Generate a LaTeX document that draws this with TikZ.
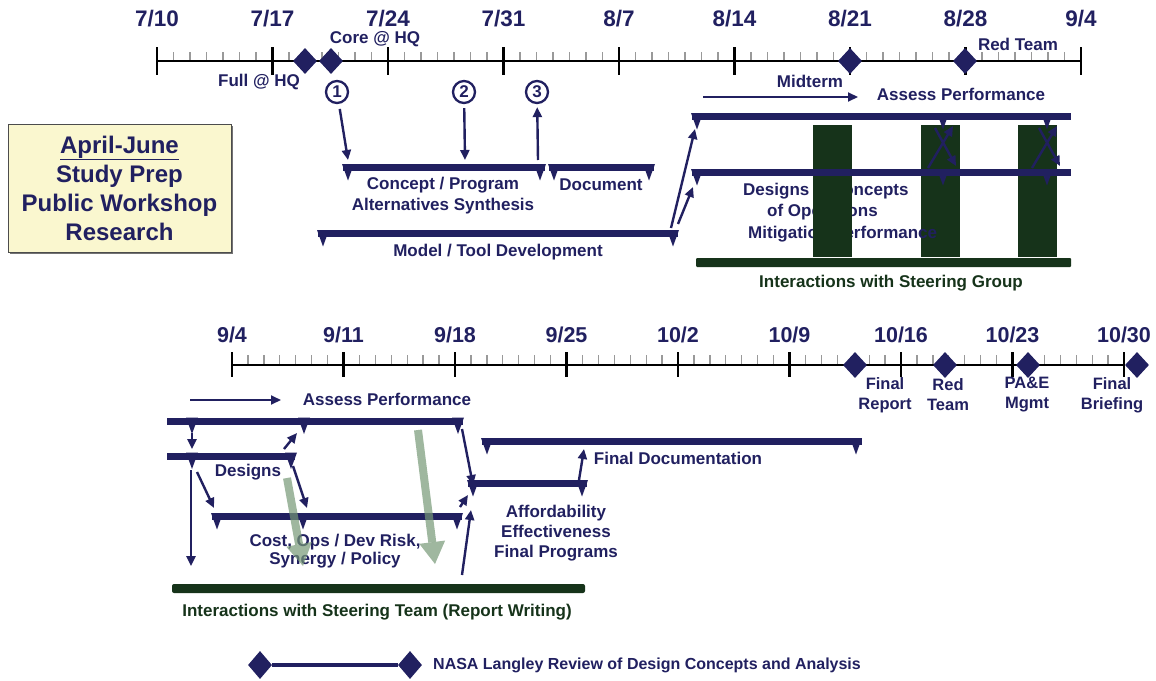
\documentclass[tikz,border=0pt]{standalone}
\usepackage{fontspec}
\setmainfont{Liberation Sans}
\usetikzlibrary{arrows.meta,shapes.geometric}

\definecolor{navy}{RGB}{33,32,96}
\definecolor{steer}{RGB}{22,51,26}
\definecolor{notepad}{RGB}{250,247,207}
\definecolor{ghost}{RGB}{118,152,118}

\newcommand\datefont{\bfseries\fontsize{22.5}{26}\selectfont}
\newcommand\lblfont{\bfseries\fontsize{17}{21}\selectfont}
\newcommand\smallfont{\bfseries\fontsize{16.5}{20}\selectfont}

% bar of a task, from x #1 to x #2 at height #3
\newcommand\taskbar[3]{\fill[navy] (#1,#3-3.5) rectangle (#2,#3+3.5);}

\tikzset{
  date/.style={font=\datefont, text=navy},
  lbl/.style={font=\lblfont, text=navy, align=center, inner sep=1pt},
  steerlbl/.style={font=\lblfont, text=steer, inner sep=1pt},
  axis/.style={black, line width=2.6pt},
  major/.style={black, line width=2.6pt},
  minor/.style={black!40, line width=1.3pt},
  milestone/.style={diamond, fill=navy, inner sep=0pt, minimum width=24pt, minimum height=26pt},
  numbered/.style={circle, draw=navy, line width=2.3pt, text=navy, font=\bfseries\fontsize{17}{17}\selectfont, minimum size=22pt, inner sep=0pt},
  link/.style={navy, line width=2.4pt, -{Triangle[length=10pt,width=9pt]}},
  spanarrow/.style={navy, line width=2pt, -{Triangle[length=10pt,width=9pt]}},
  steercol/.style={fill=steer},
  ghostarrow/.style={draw=ghost, line width=8pt, opacity=.7, -{Triangle[length=22pt,width=26pt,line width=0pt]}},
  droptip/.pic={\fill[navy] (-6,-3.5) -- (6,-3.5) -- (0,13) -- cycle;}
}

\begin{document}
\begin{tikzpicture}[x=1pt, y=-1pt]
\useasboundingbox (0,0) rectangle (1156,680);

% ---- July / August time line
\foreach \k in {0,...,56}
  \draw[minor] (157+16.5*\k,52) -- (157+16.5*\k,61);
\draw[axis] (157,61) -- (1081,61);
\foreach \m/\d [count=\i from 0] in {7/10,7/17,7/24,7/31,8/7,8/14,8/21,8/28,9/4} {
  \draw[major] (157+115.5*\i,47) -- (157+115.5*\i,75);
  \node[date] (top\i) at (157+115.5*\i,19) {\m/\d};
}
\node[milestone] (full) at (305,61) {};
\node[milestone] (core) at (331,61) {};
\node[milestone] (mid) at (850,61) {};
\node[milestone] (red) at (965,61) {};
\node[lbl] (fullhq) at (259,82) {Full @ HQ};
\node[lbl] (corehq) at (375,39) {Core @ HQ};
\node[lbl] (redteam) at (1018,44) {Red Team};

% numbered steps of the synthesis
\node[numbered] (c1) at (337,92) {1};
\node[numbered] (c2) at (464,92) {2};
\node[numbered] (c3) at (537,92) {3};

\taskbar{343}{545}{167.5}
\pic at (348,167.5) {droptip}; \pic at (540,167.5) {droptip};
\taskbar{549}{654}{167.5}
\pic at (554,167.5) {droptip}; \pic at (649,167.5) {droptip};
\node[lbl] (synth) at (443,195.5) {Concept / Program\\Alternatives Synthesis};
\node[lbl] (doc) at (601,185) {Document};
\taskbar{318}{678}{233.5}
\pic at (323,233.5) {droptip}; \pic at (673,233.5) {droptip};
\node[lbl] (model) at (498,252) {Model / Tool Development};

\coordinate (a1) at (348,160);
\coordinate (a2) at (465,160);
\coordinate (a3) at (538,160);
\draw[link, shorten <=5pt] (c1) -- (a1);
\draw[link, shorten <=4pt] (c2) -- (a2);
\draw[link, shorten >=3pt] (a3) -- (c3);

% assessment and designs, August
\node[lbl] (midterm) at (810,81) {Midterm};
\coordinate (ms) at (703,97);
\coordinate (me) at (858,97);
\draw[spanarrow] (ms) -- (me);
\node[lbl] (assess) at (961,94) {Assess Performance};

% steering group columns: 2 and 3 under the text, 1 over it
\fill[steercol] (921,125) rectangle (960,257);
\fill[steercol] (1018,125) rectangle (1057,257);
\node[lbl, anchor=west] (des1) at (742,191) {Designs \& Concepts};
\node[lbl, anchor=west] (des2) at (766,212) {of Operations};
\node[lbl, anchor=west] (des3) at (747,234) {Mitigation Performance};
\fill[steercol] (813,125) rectangle (852,257);
\fill[steer, rounded corners=1pt] (696,258) rectangle (1071,267);
\node[steerlbl] (steergroup) at (891,283) {Interactions with Steering Group};

\taskbar{692}{1071}{116.5}
\foreach \x in {697,943,1047} \pic at (\x,116.5) {droptip};
\taskbar{692}{1071}{172.5}
\foreach \x in {697,943,1047} \pic at (\x,172.5) {droptip};

\foreach \cx [count=\j] in {943,1047} {
  \coordinate (xa\j) at (\cx-8,128);
  \coordinate (xb\j) at (\cx+13,166);
  \coordinate (xc\j) at (\cx-15,168);
  \coordinate (xd\j) at (\cx+10,126);
  \draw[link] (xa\j) -- (xb\j);
  \draw[link] (xc\j) -- (xd\j);
}

\coordinate (m1) at (671,228);
\coordinate (m2) at (678,224);
\coordinate (p1) at (695,129);
\coordinate (p2) at (693,187);
\draw[link] (m1) -- (p1);
\draw[link] (m2) -- (p2);

% spring work
\fill[black!55] (10,126) rectangle (233,254);
\node[draw=black!70, line width=.8pt, fill=notepad, minimum width=223pt, minimum height=128pt, inner sep=0pt] (prepbox) at (119.5,188) {};
\node[text=navy, font=\bfseries\fontsize{24}{29}\selectfont, align=center] (prep) at (prepbox) {\underline{April-June}\\Study Prep\\Public Workshop\\Research};

% ---- September / October time line
\foreach \k in {0,...,56}
  \draw[minor] (232+111.5*\k/7,355) -- (232+111.5*\k/7,365);
\draw[axis] (232,365) -- (1124,365);
\foreach \m/\d [count=\i from 0] in {9/4,9/11,9/18,9/25,10/2,10/9,10/16,10/23,10/30} {
  \draw[major] (232+111.5*\i,352) -- (232+111.5*\i,377);
  \node[date, font=\bfseries\fontsize{21.5}{24}\selectfont] (bot\i) at (232+111.5*\i,335) {\m/\d};
}
\node[milestone] (finalrep) at (855,365) {};
\node[milestone] (redteam2) at (945,365) {};
\node[milestone] (pae) at (1028,365) {};
\node[milestone] (brief) at (1137,365) {};
\node[lbl, font=\smallfont] (l1) at (885,395) {Final\\Report};
\node[lbl, font=\smallfont] (l2) at (948,395) {Red\\Team};
\node[lbl, font=\smallfont] (l3) at (1027,395) {PA\&E\\Mgmt};
\node[lbl, font=\smallfont] (l4) at (1112,395) {Final\\Briefing};

\node[lbl] (assess2) at (387,399) {Assess Performance};
\coordinate (bs) at (190,400);
\coordinate (be) at (281,400);
\draw[spanarrow] (bs) -- (be);

\taskbar{167}{463}{421}
\foreach \x in {192,304,458} \pic at (\x,421) {droptip};
\taskbar{167}{295}{456}
\foreach \x in {192,291} \pic at (\x,456) {droptip};
\node[lbl] (designs) at (248,472) {Designs};
\taskbar{212}{462}{516.5}
\foreach \x in {217,303,457} \pic at (\x,516.5) {droptip};
\node[lbl, font=\bfseries\fontsize{17}{18.5}\selectfont] (cost) at (335,551) {Cost, Ops / Dev Risk,\\Synergy / Policy};

\taskbar{482}{862}{441.5}
\pic at (487,441.5) {droptip}; \pic at (856,441.5) {droptip};
\node[lbl] (finaldoc) at (678,458) {Final Documentation};
\taskbar{468}{587}{483.5}
\pic at (473,483.5) {droptip}; \pic at (582,483.5) {droptip};
\node[lbl, font=\bfseries\fontsize{17}{20}\selectfont] (afford) at (556,533) {Affordability\\Effectiveness\\Final Programs};

\fill[steer, rounded corners=2pt] (172,584) rectangle (585,593);
\node[steerlbl] (steerteam) at (377,612) {Interactions with Steering Team (Report Writing)};

\coordinate (b1) at (192,433);  \coordinate (b2) at (192,449);
\coordinate (b3) at (191,470);  \coordinate (b4) at (191,566);
\coordinate (b5) at (197,472);  \coordinate (b6) at (214,508);
\coordinate (b7) at (293,466);  \coordinate (b8) at (307,508);
\coordinate (b9) at (284,449);  \coordinate (b10) at (297,433);
\coordinate (b11) at (462,429); \coordinate (b12) at (473,485);
\coordinate (b13) at (460,507); \coordinate (b14) at (468,495);
\coordinate (b15) at (462,575); \coordinate (b16) at (471,510);
\coordinate (b17) at (579,480); \coordinate (b18) at (584,449);
\draw[link] (b1) -- (b2);
\draw[link] (b3) -- (b4);
\draw[link] (b5) -- (b6);
\draw[link] (b7) -- (b8);
\draw[link] (b9) -- (b10);
\draw[link] (b11) -- (b12);
\draw[link] (b13) -- (b14);
\draw[link] (b15) -- (b16);
\draw[link] (b17) -- (b18);

% hand-over arrows
\coordinate (g1) at (287,478); \coordinate (g2) at (303,566);
\coordinate (g3) at (418,430); \coordinate (g4) at (435,564);
\draw[ghostarrow] (g1) -- (g2);
\draw[ghostarrow] (g3) -- (g4);

% legend
\node[milestone, minimum height=28pt] (lg1) at (260,665) {};
\node[milestone, minimum height=28pt] (lg2) at (410,665) {};
\draw[navy, line width=3.5pt] (lg1) -- (lg2);
\node[lbl, anchor=west, font=\bfseries\fontsize{16}{18}\selectfont] (legend) at (432,665) {NASA Langley Review of Design Concepts and Analysis};
\end{tikzpicture}
\end{document}
